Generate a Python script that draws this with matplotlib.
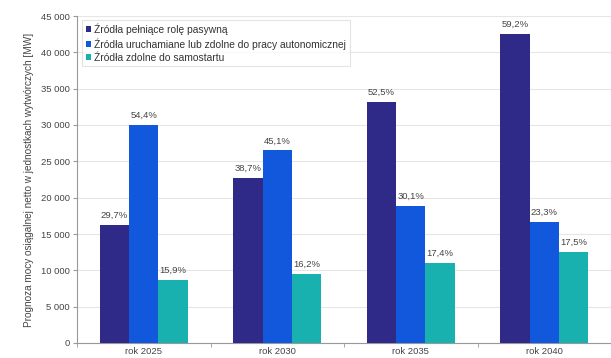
import matplotlib
matplotlib.use("Agg")
import matplotlib.pyplot as plt
import numpy as np

categories = ["rok 2025", "rok 2030", "rok 2035", "rok 2040"]
series_names = [
    "Źródła pełniące rolę pasywną",
    "Źródła uruchamiane lub zdolne do pracy autonomicznej",
    "Źródła zdolne do samostartu",
]
passive = [16200, 22700, 33200, 42500]
autonomous = [30000, 26500, 18900, 16700]
blackstart = [8700, 9500, 11000, 12500]
passive_pct = ["29,7%", "38,7%", "52,5%", "59,2%"]
autonomous_pct = ["54,4%", "45,1%", "30,1%", "23,3%"]
blackstart_pct = ["15,9%", "16,2%", "17,4%", "17,5%"]
yticks = [0, 5000, 10000, 15000, 20000, 25000, 30000, 35000, 40000, 45000]
ytick_labels = ["0", "5 000", "10 000", "15 000", "20 000", "25 000",
                "30 000", "35 000", "40 000", "45 000"]

colors = ["#2f2a88", "#1258dc", "#19b0b0"]
plt.rcParams['font.family'] = ['Liberation Sans', 'DejaVu Sans']

fig = plt.figure(figsize=(6.11, 3.58), dpi=100)
ax = fig.add_axes([77/611, 15/358, 534/611, 327/358])

x = np.arange(len(categories))
w = 0.22
data = [passive, autonomous, blackstart]
labels = [passive_pct, autonomous_pct, blackstart_pct]
for i, (vals, lbls) in enumerate(zip(data, labels)):
    pos = x + (i - 1) * w
    ax.bar(pos, vals, width=w, color=colors[i], label=series_names[i], zorder=3)
    for p, v, l in zip(pos, vals, lbls):
        ax.text(p, v + 700, l, ha="center", va="bottom", fontsize=6.8, color="#444444", zorder=4)

ax.set_xlim(-0.5, len(categories) - 0.5)
ax.set_ylim(0, 45000)
ax.set_yticks(yticks)
ax.set_yticklabels(ytick_labels, fontsize=6.8, color="#444444")
ax.set_xticks(x)
ax.set_xticklabels(categories, fontsize=6.8, color="#444444")
ax.set_xticks(np.arange(len(categories) + 1) - 0.5, minor=True)
ax.tick_params(axis="x", which="major", length=0, pad=3)
ax.tick_params(axis="x", which="minor", length=3, color="#999999")
ax.tick_params(axis="y", length=3, color="#999999", pad=2)
ax.grid(axis="y", color="#e6e6e6", linewidth=0.8, zorder=0)
for s in ["top", "right"]:
    ax.spines[s].set_visible(False)
for s in ["left", "bottom"]:
    ax.spines[s].set_color("#999999")
    ax.spines[s].set_linewidth(0.8)

ax.set_ylabel("Prognoza mocy osiągalnej netto w jednostkach wytwórczych [MW]",
              fontsize=7.2, color="#444444", labelpad=5)

leg = ax.legend(loc="upper left", bbox_to_anchor=(0.01, 0.988), fontsize=7.4,
                frameon=True, fancybox=False, handlelength=0.5, handleheight=0.5,
                handletextpad=0.3, borderpad=0.35, labelspacing=0.3, borderaxespad=0)
leg.get_frame().set_edgecolor("#dddddd")
leg.get_frame().set_linewidth(0.8)
for t in leg.get_texts():
    t.set_color("#333333")

fig.savefig("out.png", dpi=100)
